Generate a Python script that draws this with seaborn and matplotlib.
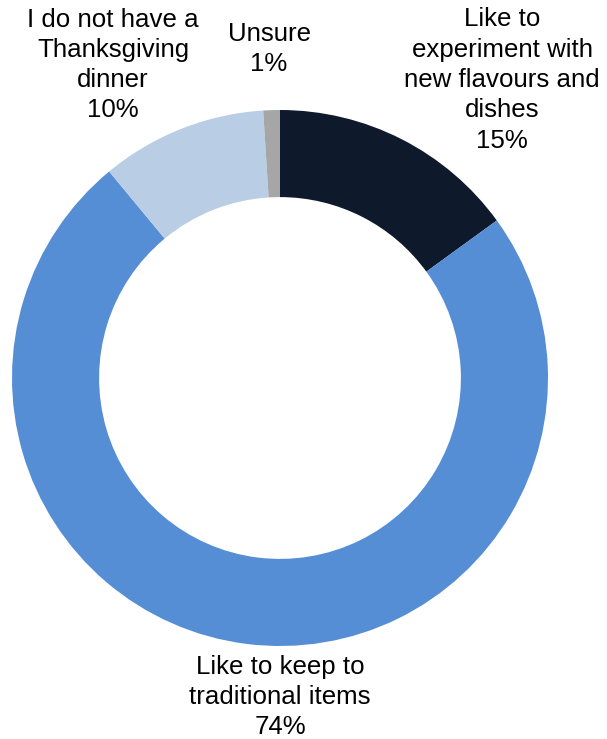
import matplotlib
matplotlib.use("Agg")
import matplotlib.pyplot as plt
import seaborn as sns

categories = ["Like to\nexperiment with\nnew flavours and\ndishes",
              "Like to keep to\ntraditional items",
              "I do not have a\nThanksgiving\ndinner",
              "Unsure"]
values = [15, 74, 10, 1]
colors = ["#0E1A2C", "#558ED5", "#B9CDE5", "#A6A6A6"]

sns.set_theme(style="white")
plt.rcParams['font.family'] = ['Liberation Sans', 'DejaVu Sans']

W, H = 607, 739
cx, cy, R = 280, 378, 268

fig = plt.figure(figsize=(W / 100, H / 100), dpi=100)
ax = fig.add_axes([0, 0, 1, 1])
palette = sns.color_palette(colors)
ax.pie(values, radius=1, startangle=90, counterclock=False, colors=palette,
       wedgeprops=dict(width=0.325, linewidth=0))
ax.set_xlim(-cx / R, (W - cx) / R)
ax.set_ylim(-(H - cy) / R, cy / R)
ax.set_aspect('equal')
ax.axis('off')

# label anchor positions in pixels (text layout only)
label_px = [(502, 80), (280, 697), (113, 65), (269, 49)]
for cat, val, (px, py) in zip(categories, values, label_px):
    ax.text((px - cx) / R, (cy - py) / R, f"{cat}\n{val}%", ha='center', va='center',
            fontsize=18.6, color='black', linespacing=1.33)

fig.savefig("out.png", dpi=100, facecolor='white')
